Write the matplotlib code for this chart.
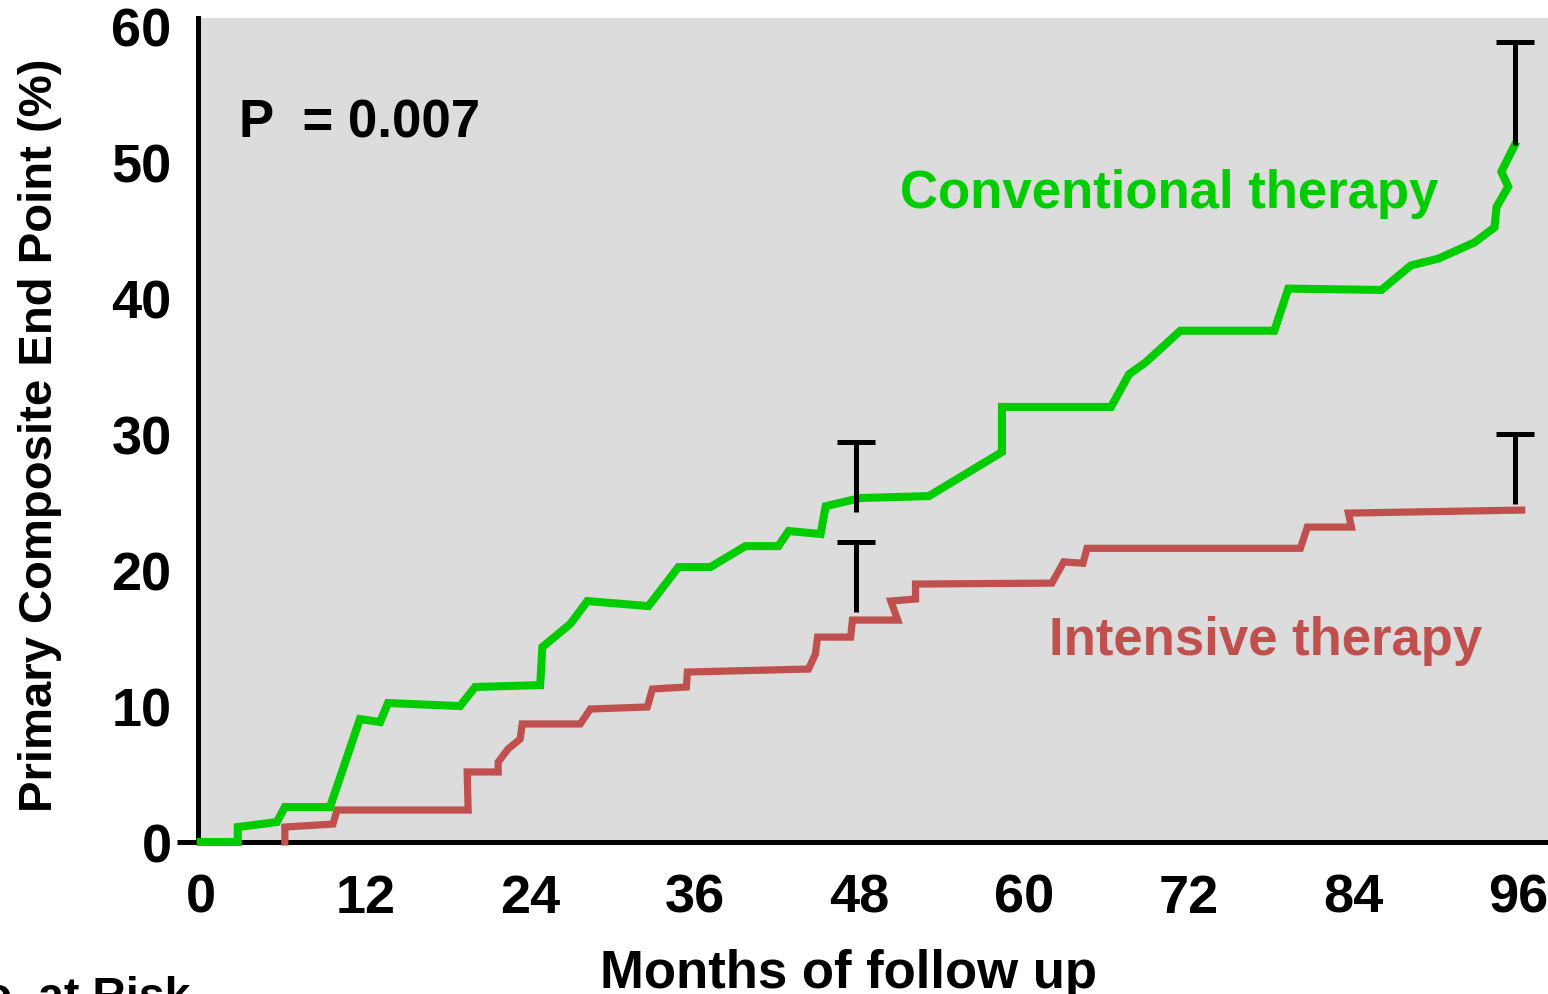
import matplotlib
matplotlib.use("Agg")
import matplotlib.pyplot as plt

plt.rcParams['font.family'] = ['Liberation Sans', 'DejaVu Sans']
plt.rcParams['font.weight'] = 'bold'

# Kaplan-Meier style curves (months, %)
conv_x = [0, 2.7, 2.7, 5.55, 6.13, 9.42, 11.6, 13.07, 13.65, 18.9, 20.0, 24.74,
          24.9, 26.93, 28.18, 32.63, 34.82, 37.15, 39.7, 42.1, 42.85, 45.18,
          45.55, 48.1, 53.07, 58.4, 58.4, 66.35, 67.66, 68.9, 71.4, 78.25,
          79.27, 86.06, 88.2, 90.2, 92.85, 94.3, 94.45, 95.3, 94.8, 95.77]
conv_y = [0, 0, 1.1, 1.47, 2.57, 2.57, 9.04, 8.82, 10.22, 10.0, 11.4, 11.54,
          14.34, 16.03, 17.72, 17.35, 20.22, 20.22, 21.76, 21.76, 22.87, 22.65,
          24.7, 25.3, 25.44, 28.68, 32.0, 32.0, 34.4, 35.3, 37.6, 37.6,
          40.7, 40.6, 42.4, 42.9, 44.1, 45.2, 46.7, 48.2, 49.3, 51.25]

int_x = [6.13, 6.13, 9.64, 9.93, 19.49, 19.42, 21.68, 21.68, 22.4, 23.28, 23.43,
         27.66, 28.4, 32.55, 32.92, 35.4, 35.47, 44.3, 44.8, 44.96, 47.37, 47.5,
         50.8, 50.3, 52.1, 52.1, 62.04, 62.9, 64.3, 64.6, 80.15, 80.66, 83.87,
         83.65, 96.28]
int_y = [0, 1.1, 1.32, 2.35, 2.35, 5.15, 5.15, 5.88, 6.84, 7.57, 8.68,
         8.68, 9.78, 9.93, 11.25, 11.4, 12.5, 12.72, 13.82, 15.07, 15.07, 16.32,
         16.32, 17.72, 17.87, 18.97, 19.04, 20.6, 20.5, 21.6, 21.6, 23.16, 23.16,
         24.19, 24.41]

# upper confidence bars
bar_x = [47.74, 47.74, 95.77, 95.77]
bar_lo = [24.26, 16.9, 51.25, 24.85]
bar_hi = [29.41, 22.06, 58.8, 30.0]

xticks = [0, 12, 24, 36, 48, 60, 72, 84, 96]
yticks = [0, 10, 20, 30, 40, 50, 60]

green = '#00CC00'
red = '#C0504D'

fig = plt.figure(figsize=(15.48, 9.95), dpi=100)
ax = fig.add_axes([198 / 1548, 152 / 995, 1350 / 1548, 824 / 995])
ax.set_facecolor('#DCDCDC')

ax.plot(int_x, int_y, color=red, lw=5.2, clip_on=False, zorder=4,
        solid_joinstyle='miter')
ax.plot(conv_x, conv_y, color=green, lw=5.8, clip_on=False, zorder=5,
        solid_joinstyle='miter')

ax.vlines(bar_x, bar_lo, bar_hi, color='black', lw=3.6, zorder=6)
ax.hlines(bar_hi, [x - 1.39 for x in bar_x], [x + 1.39 for x in bar_x],
          color='black', lw=3.6, zorder=6)

ax.set_xlim(-0.2, 98.2)
ax.set_ylim(0, 60.6)
ax.set_xticks(xticks)
ax.set_yticks(yticks)
ax.tick_params(length=0, labelsize=39)
ax.tick_params(axis='y', pad=19)
ax.tick_params(axis='x', pad=22)
for lab in ax.get_xticklabels() + ax.get_yticklabels():
    lab.set_fontweight('bold')

for s in ['top', 'right']:
    ax.spines[s].set_visible(False)
for s in ['left', 'bottom']:
    ax.spines[s].set_linewidth(3.6)
# small stub of the x axis left of the y axis
ax.plot([-1.7, 0], [0, 0], color='black', lw=3.6, clip_on=False, zorder=3,
        solid_capstyle='butt')

ax.text(2.8, 51.9, 'P  = 0.007', fontsize=38, fontweight='bold',
        va='baseline')
ax.text(51.0, 46.7, 'Conventional therapy', color=green, fontsize=38,
        fontweight='bold')
ax.text(61.8, 13.8, 'Intensive therapy', color=red, fontsize=38,
        fontweight='bold')

fig.text(40 / 1548, 1 - 435 / 995, 'Primary Composite End Point (%)',
         rotation=90, ha='center', va='center', fontsize=34, fontweight='bold')
fig.text(848 / 1548, 7 / 995, 'Months of follow up', ha='center',
         va='baseline', fontsize=38, fontweight='bold')
fig.text(191 / 1548, -15 / 995, 'No. at Risk', ha='right', va='baseline',
         fontsize=33.5, fontweight='bold')

fig.savefig('out.png', dpi=100)
